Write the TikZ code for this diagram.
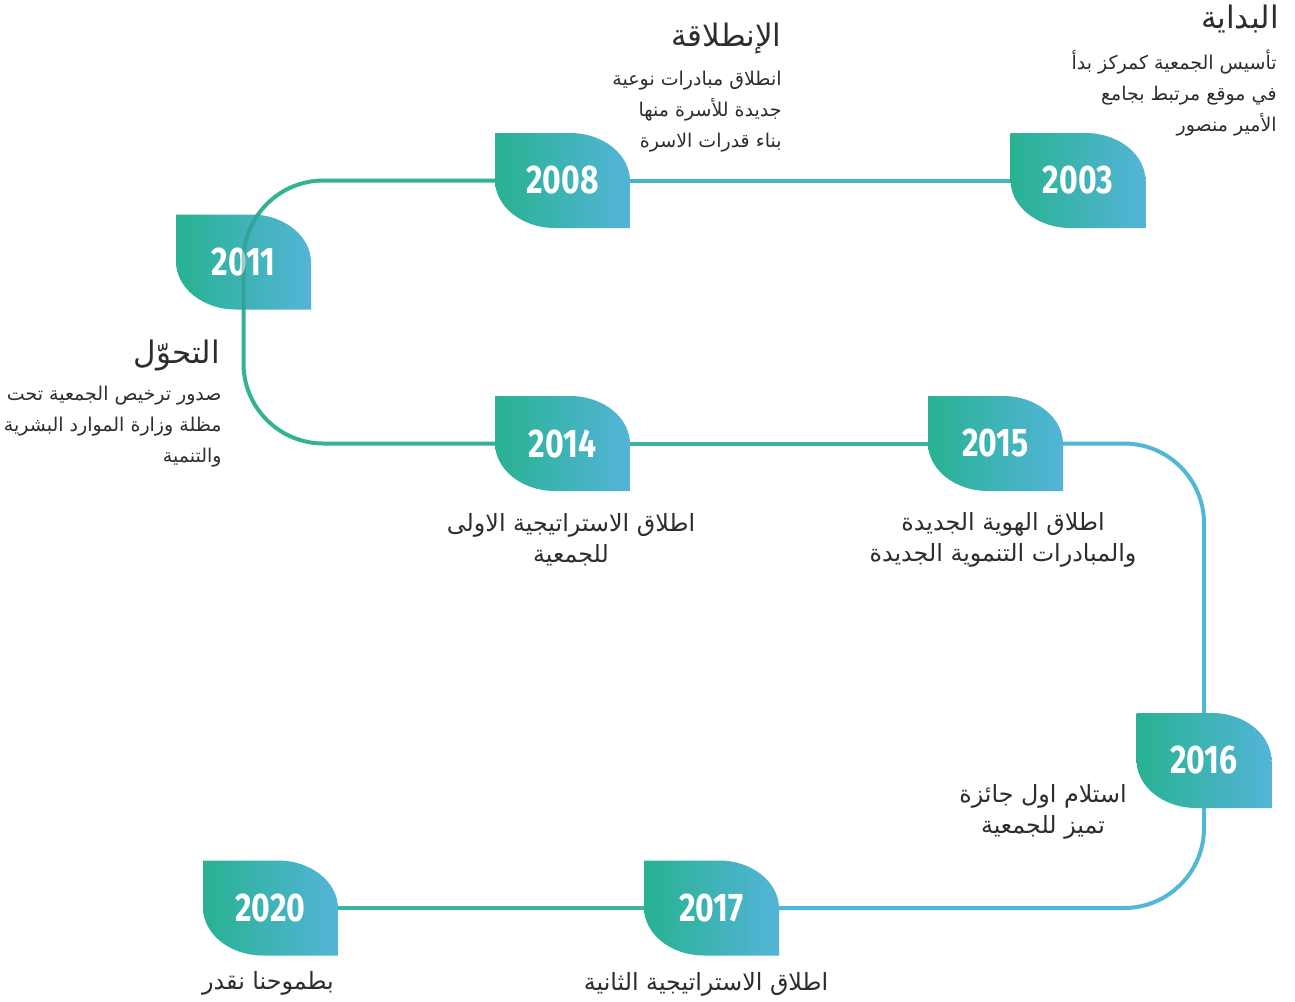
\documentclass[tikz,border=0pt]{standalone}
\usepackage{fontspec}
\usepackage{xcolor}
\usetikzlibrary{backgrounds}
\TeXXeTstate=1
\newfontfamily\arabicfont[Script=Arabic]{DejaVu Sans}
\newfontfamily\yearfont[FakeStretch=0.8]{Fira Sans}
\definecolor{leafgreen}{RGB}{40,178,146}
\definecolor{leafblue}{RGB}{84,180,216}
\definecolor{trackteal}{RGB}{70,182,192}
\definecolor{trackgreen}{RGB}{52,178,148}
\definecolor{trackblue}{RGB}{82,182,214}
\definecolor{textgray}{RGB}{45,45,45}
\newcommand{\arline}[1]{\beginR #1\endR}

\begin{document}
\begin{tikzpicture}[x=0.5pt, y=-0.5pt,
    leaf/.style={rectangle, minimum width=67.5pt, minimum height=47.5pt, inner sep=0pt,
                 text=white, font=\yearfont\bfseries\fontsize{20}{24}\selectfont,
                 path picture={\shade[left color=leafgreen, right color=leafblue]
                   (path picture bounding box.north west) -- ++(37.5pt,0)
                   arc[start angle=90, end angle=0, x radius=30pt, y radius=24pt]
                   -- (path picture bounding box.south east) -- ++(-37.5pt,0)
                   arc[start angle=270, end angle=180, x radius=30pt, y radius=24pt] -- cycle;}},
    title/.style={anchor=east, inner sep=0pt, text=textgray, font=\arabicfont\fontsize{15.5}{18}\selectfont},
    desc/.style={anchor=east, inner sep=0pt, text=textgray, align=right,
                 font=\arabicfont\fontsize{9.5}{15.5}\selectfont},
    note/.style={inner sep=0pt, text=textgray, align=center,
                 font=\arabicfont\fontsize{11.9}{15.5}\selectfont},
    track/.style={line width=2pt, rounded corners=40pt}]
    \useasboundingbox (0,0) rectangle (1295,1001);

    % Years
    \node[leaf] (y2003) at (1078,180.5) {2003};
    \node[leaf] (y2008) at (562.5,180.5) {2008};
    \node[leaf] (y2011) at (243.5,262) {2011};
    \node[leaf] (y2014) at (562.5,443.5) {2014};
    \node[leaf] (y2015) at (995.5,443.5) {2015};
    \node[leaf] (y2016) at (1204,760.5) {2016};
    \node[leaf] (y2017) at (711.5,908) {2017};
    \node[leaf] (y2020) at (270.5,908) {2020};

    % Track
    \begin{scope}[on background layer]
    \draw[track, trackteal] (y2003.center) -- (y2008.center);
    \draw[track, trackgreen] (y2008.center) -| (y2011.center);
    \draw[track, trackgreen] (y2011.center) |- (y2014.center);
    \draw[track, trackgreen!70!trackblue] (y2014.center) -- (y2015.center);
    \draw[track, trackblue] (y2015.center) -| (y2016.center);
    \draw[track, trackblue] (y2016.center) |- (y2017.center);
    \draw[track, trackgreen!70!trackblue] (y2017.center) -- (y2020.center);
    \end{scope}
    \begin{scope}
    \clip (y2011.south west) rectangle (y2011.north east);
    \draw[track, trackgreen!80!black, opacity=0.45] (y2008.center) -| (y2011.center);
    \draw[track, trackgreen!80!black, opacity=0.45] (y2011.center) |- (y2014.center);
    \end{scope}

    % Texts
    \node[title] (t2003) at (1279,19) {\arline{البداية}};
    \node[desc] (d2003) at (1277,93) {\arline{تأسيس الجمعية كمركز بدأ}\\\arline{في موقع مرتبط بجامع}\\\arline{الأمير منصور}};
    \node[title] (t2008) at (782,39) {\arline{الإنطلاقة}};
    \node[desc] (d2008) at (782,112) {\arline{انطلاق مبادرات نوعية}\\\arline{جديدة للأسرة منها}\\\arline{بناء قدرات الاسرة}};
    \node[title] (t2011) at (220,356) {\arline{التحوّل}};
    \node[desc] (d2011) at (222,427) {\arline{صدور ترخيص الجمعية تحت}\\\arline{مظلة وزارة الموارد البشرية}\\\arline{والتنمية}};
    \node[note] (d2014) at (571,540) {\arline{اطلاق الاستراتيجية الاولى}\\\arline{للجمعية}};
    \node[note] (d2015) at (1003,540) {\arline{اطلاق الهوية الجديدة}\\\arline{والمبادرات التنموية الجديدة}};
    \node[note] (d2016) at (1043,812) {\arline{استلام اول جائزة}\\\arline{تميز للجمعية}};
    \node[note] (d2017) at (706,984) {\arline{اطلاق الاستراتيجية الثانية}};
    \node[note] (d2020) at (268,983) {\arline{بطموحنا نقدر}};
\end{tikzpicture}
\end{document}
